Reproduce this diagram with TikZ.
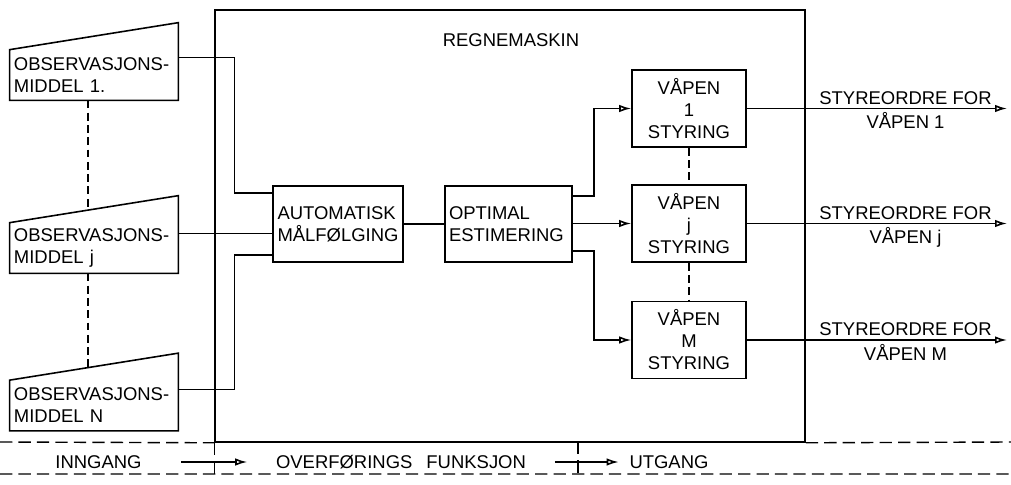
\documentclass[tikz,border=0pt]{standalone}
\usepackage{fontspec}
\setmainfont{Liberation Sans}
\usetikzlibrary{positioning,arrows.meta,calc}

\begin{document}
\begin{tikzpicture}[
  font=\fontsize{10.5}{12.5}\selectfont,
  ln/.style={line width=0.9pt},
  blk/.style={draw,line width=0.9pt,minimum height=1.52cm,inner sep=2pt,align=left},
  obs/.style={minimum width=3.36cm,minimum height=1.0cm,text width=3.2cm,align=left,inner sep=2pt},
  vap/.style={draw,line width=0.9pt,minimum width=2.28cm,minimum height=1.54cm,align=center,inner sep=1pt},
  lab/.style={inner sep=2pt},
  ar/.style={-{Latex[open,length=2.4mm,width=1.5mm]},line width=0.9pt},
  dsh/.style={line width=0.8pt,dash pattern=on 4.5pt off 2.5pt},
  bnd/.style={line width=0.8pt,dash pattern=on 7pt off 3.5pt}]
\useasboundingbox (0,0) rectangle (20.22,-9.7);
% ---- computer frame
\node[draw,line width=0.9pt,minimum width=11.8cm,minimum height=8.64cm,inner sep=0pt] (cpu) at (10.2,-4.52) {};
\node[lab] (regn) at (10.22,-0.8) {REGNEMASKIN};
% ---- observation means
\node[obs] (obs1) at (1.88,-1.5) {OBSERVASJONS-\\MIDDEL 1.};
\node[obs] (obsj) at (1.88,-4.96) {OBSERVASJONS-\\MIDDEL j};
\node[obs] (obsN) at (1.88,-8.11) {OBSERVASJONS-\\MIDDEL N};
\foreach \o in {obs1,obsj,obsN}{\draw[ln] (\o.south west) -- (\o.south east) -- ([yshift=0.54cm]\o.north east) -- (\o.north west) -- cycle;}
\draw[dsh] ([xshift=-0.12cm]obs1.south) -- ([xshift=-0.12cm,yshift=0.25cm]obsj.north);
\draw[dsh] ([xshift=-0.12cm]obsj.south) -- ([xshift=-0.12cm,yshift=0.25cm]obsN.north);
% ---- processing
\node[blk,minimum width=2.6cm,text width=2.42cm] (auto) at (6.76,-4.48) {AUTOMATISK\\MÅLFØLGING};
\node[blk,minimum width=2.54cm,text width=2.38cm] (opt) at (10.17,-4.48) {OPTIMAL\\ESTIMERING};
\node[vap] (v1) at (13.78,-2.17) {VÅPEN\\1\\STYRING};
\node[vap] (vj) at (13.78,-4.47) {VÅPEN\\j\\STYRING};
\node[vap] (vM) at (13.78,-6.8) {VÅPEN\\M\\STYRING};
\draw[dsh] (v1) -- (vj) (vj) -- (vM);
\draw[ln] ([yshift=-0.16cm]obs1.north east) -- ++(1.12,0) |- ([yshift=0.62cm]auto.west);
\draw[ln] ([yshift=-0.22cm]obsj.north east) -- ([yshift=-0.22cm]obsj.north east -| auto.west);
\draw[ln] ([yshift=-0.19cm]obsN.north east) -- ++(1.12,0) |- ([yshift=-0.62cm]auto.west);
\draw[ln] (auto) -- (opt);
\draw[ar] ([yshift=0.56cm]opt.east) -- ++(0.42,0) |- (v1.west);
\draw[ar] (opt.east |- vj.west) -- (vj.west);
\draw[ar] ([yshift=-0.54cm]opt.east) -- ++(0.42,0) |- (vM.west);
% ---- control orders
\coordinate (rgt) at (20.14,0);
\foreach \v/\n in {v1/1,vj/j,vM/M}{
  \draw[ar] (\v.east) -- node[pos=0.61,above,lab]{STYREORDRE FOR} node[pos=0.61,below,lab]{VÅPEN \n} (\v.east -| rgt);}
% ---- bottom band
\coordinate (tl) at (0,-8.84); \coordinate (tr) at (20.22,-8.84);
\coordinate (bl) at (0,-9.48); \coordinate (br) at (20.22,-9.48);
\coordinate (sep) at (11.56,-8.84);
\draw[bnd] (tl) -- (cpu.south west) (cpu.south east) -- (tr) (bl) -- (br);
\draw[bnd] (cpu.south west) -- (cpu.south west |- bl) (sep) -- (sep |- bl);
\node[lab] (inn) at (1.97,-9.24) {INNGANG};
\node[lab] (ovf) at (8.02,-9.24) {OVERFØRINGS\hspace{8pt}FUNKSJON};
\node[lab] (utg) at (13.38,-9.24) {UTGANG};
\draw[ar,shorten <=0.72cm,shorten >=0.5cm] (inn) -- (ovf);
\draw[ar,shorten <=0.5cm,shorten >=0.14cm] (ovf) -- (utg);
\end{tikzpicture}
\end{document}
